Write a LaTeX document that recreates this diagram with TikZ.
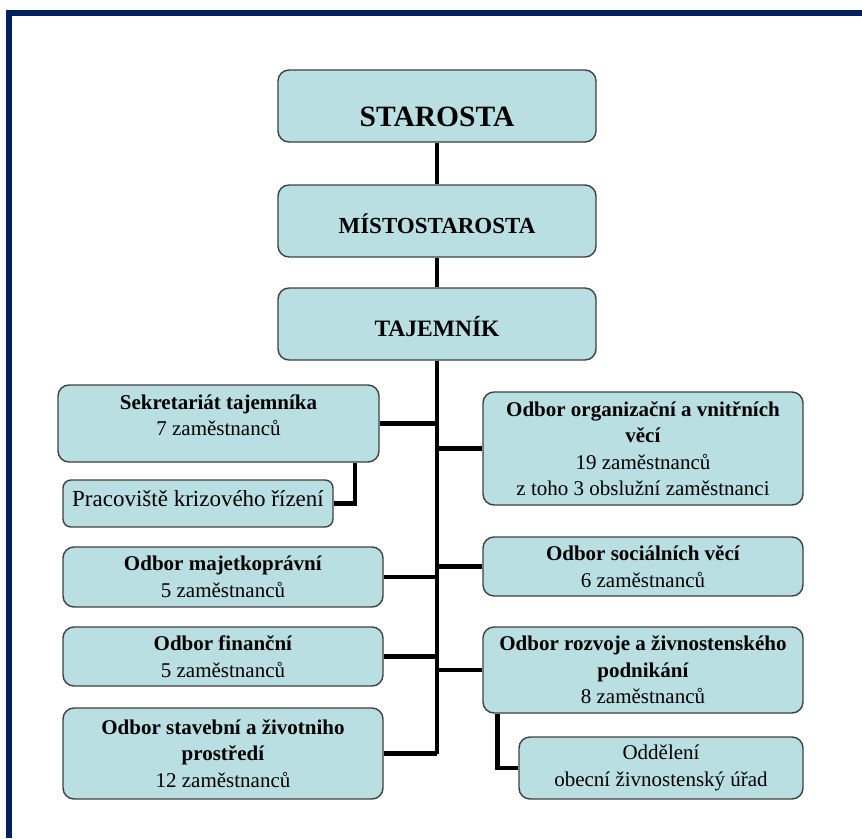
\documentclass[tikz,border=0pt]{standalone}
\usepackage{fontspec}
\setmainfont{Liberation Serif}
\usetikzlibrary{calc}
\definecolor{navy}{HTML}{002060}
\definecolor{boxfill}{HTML}{B9DFE3}
\definecolor{boxline}{HTML}{404040}
\begin{document}
\begin{tikzpicture}[x=1pt,y=-1pt,
  orgbox/.style={draw=boxline, line width=1.4pt, fill=boxfill, rounded corners=11pt,
    align=center, inner sep=0pt, font=\fontsize{21}{26.5}\selectfont},
  topbox/.style={orgbox, minimum width=318pt, minimum height=72pt},
  leftbox/.style={orgbox, minimum width=320pt},
  rightbox/.style={orgbox, minimum width=320pt},
  link/.style={line width=4.4pt, black}]
\useasboundingbox (0,0) rectangle (862,838);
\fill[navy] (6,10) rectangle (862,16);
\fill[navy] (6,10) rectangle (12,838);

\node[topbox] (star) at (437,106) {\raisebox{-20pt}[0pt][0pt]{\fontsize{29.5}{29.5}\selectfont\bfseries STAROSTA}};
\node[topbox] (mist) at (437,221) {\raisebox{-12.5pt}[0pt][0pt]{\fontsize{23}{23}\selectfont\bfseries MÍSTOSTAROSTA}};
\node[topbox] (taj) at (437,324) {\raisebox{-12pt}[0pt][0pt]{\fontsize{23.5}{23.5}\selectfont\bfseries TAJEMNÍK}};

\node[orgbox, minimum width=321pt, minimum height=77pt] (sek) at (218.5,423.5)
  {\textbf{Sekretariát tajemníka}\\7 zaměstnanců\\[-10pt]\mbox{}};
\node[orgbox, minimum width=270pt, minimum height=47pt, rounded corners=8pt,
  font=\fontsize{23}{26.5}\selectfont] (prac) at (198,503.5) {\raisebox{0pt}[18pt][12pt]{Pracoviště krizového řízení}};
\node[leftbox, minimum height=60pt] (maj) at (223,577) {\textbf{Odbor majetkoprávní}\\5 zaměstnanců};
\node[leftbox, minimum height=59pt] (fin) at (223,656.5) {\textbf{Odbor finanční}\\5 zaměstnanců};
\node[leftbox, minimum height=91pt] (stav) at (223,753.5)
  {\textbf{Odbor stavební a životniho}\\\textbf{prostředí}\\12 zaměstnanců};

\node[rightbox, minimum height=113pt] (org) at (643,448.5)
  {\textbf{Odbor organizační a vnitřních}\\\textbf{věcí}\\19 zaměstnanců\\z toho 3 obslužní zaměstnanci};
\node[rightbox, minimum height=59pt] (soc) at (643,566.5) {\textbf{Odbor sociálních věcí}\\6 zaměstnanců};
\node[rightbox, minimum height=86pt] (roz) at (643,670)
  {\textbf{Odbor rozvoje a živnostenského}\\\textbf{podnikání}\\8 zaměstnanců};
\node[orgbox, minimum width=284pt, minimum height=62pt] (odd) at (661,768)
  {Oddělení\\obecní živnostenský úřad};

\coordinate (trunkend) at (437,753.5);
\draw[link] (star.south) -- (mist.north);
\draw[link] (mist.south) -- (taj.north);
\draw[link] (taj.south) -- (trunkend);
\draw[link] (sek.east) -- (sek.east -| trunkend);
\draw[link] (maj.east) -- (maj.east -| trunkend);
\draw[link] (fin.east) -- (fin.east -| trunkend);
\draw[link] (stav.east) -- (trunkend);
\draw[link] (org.west) -- (org.west -| trunkend);
\draw[link] (soc.west) -- (soc.west -| trunkend);
\draw[link] (roz.west) -- (roz.west -| trunkend);
\draw[link] ($(sek.south east)+(-25,0)$) |- (prac.east);
\draw[link] ($(roz.south west)+(15,0)$) |- (odd.west);
\end{tikzpicture}
\end{document}
